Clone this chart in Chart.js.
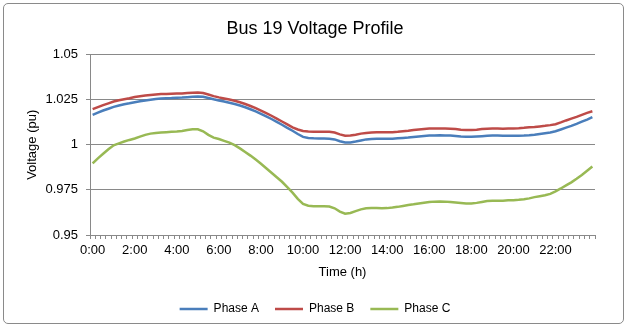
<!DOCTYPE html>
<html>
<head>
<meta charset="utf-8">
<script src="https://cdn.jsdelivr.net/npm/chart.js@4"></script>
<style>
  body { margin: 0; background: #fff; }
  #wrap { position: relative; width: 625px; height: 325px; }
  #frame { position: absolute; left: 3px; top: 3px; width: 619px; height: 319px;
           border: 1px solid #8a8a8a; border-radius: 5px; pointer-events: none; }
</style>
</head>
<body>
<div id="wrap">
  <canvas id="voltChart" width="625" height="325"></canvas>
  <div id="frame"></div>
</div>
<script>
// DATA (15 min steps, 0:00 .. 23:45)
const times = [];
for (let h = 0; h < 24; h++) for (let m = 0; m < 60; m += 15) times.push(h + ":" + (m < 10 ? "0" + m : m));

const phaseA = [
  1.0166, 1.0178, 1.0190, 1.0200, 1.0210, 1.0218, 1.0225, 1.0230,
  1.0236, 1.0241, 1.0246, 1.0250, 1.0254, 1.0256, 1.0258, 1.0259,
  1.0261, 1.0262, 1.0264, 1.0266, 1.0268, 1.0266, 1.0259, 1.0252,
  1.0246, 1.0240, 1.0233, 1.0226, 1.0218, 1.0208, 1.0197, 1.0185,
  1.0172, 1.0158, 1.0143, 1.0127, 1.0111, 1.0094, 1.0078, 1.0060,
  1.0044, 1.0038, 1.0036, 1.0035, 1.0035, 1.0034, 1.0030, 1.0020,
  1.0013, 1.0013, 1.0018, 1.0024, 1.0030, 1.0032, 1.0033, 1.0033,
  1.0033, 1.0034, 1.0036, 1.0038, 1.0040, 1.0043, 1.0046, 1.0049,
  1.0051, 1.0052, 1.0053, 1.0052, 1.0051, 1.0049, 1.0046, 1.0044,
  1.0044, 1.0046, 1.0048, 1.0050, 1.0051, 1.0051, 1.0050, 1.0050,
  1.0050, 1.0050, 1.0051, 1.0053, 1.0056, 1.0060, 1.0064, 1.0068,
  1.0075, 1.0085, 1.0095, 1.0105, 1.0116, 1.0128, 1.0140, 1.0153
];
const phaseB = [
  1.0198, 1.0209, 1.0220, 1.0230, 1.0240, 1.0247, 1.0253, 1.0258,
  1.0265, 1.0269, 1.0273, 1.0276, 1.0279, 1.0281, 1.0282, 1.0283,
  1.0284, 1.0285, 1.0287, 1.0289, 1.0290, 1.0287, 1.0279, 1.0270,
  1.0263, 1.0257, 1.0251, 1.0244, 1.0236, 1.0226, 1.0215, 1.0203,
  1.0190, 1.0176, 1.0161, 1.0145, 1.0129, 1.0113, 1.0097, 1.0085,
  1.0077, 1.0074, 1.0073, 1.0072, 1.0072, 1.0072, 1.0068, 1.0058,
  1.0050, 1.0051, 1.0056, 1.0062, 1.0066, 1.0068, 1.0069, 1.0069,
  1.0069, 1.0070, 1.0072, 1.0075, 1.0078, 1.0082, 1.0085, 1.0088,
  1.0090, 1.0091, 1.0091, 1.0090, 1.0089, 1.0087, 1.0084, 1.0082,
  1.0082, 1.0084, 1.0087, 1.0089, 1.0090, 1.0090, 1.0089, 1.0090,
  1.0091, 1.0092, 1.0094, 1.0097, 1.0099, 1.0102, 1.0105, 1.0109,
  1.0114, 1.0124, 1.0135, 1.0145, 1.0155, 1.0166, 1.0177, 1.0186
];
const phaseC = [
  0.9897, 0.9925, 0.9950, 0.9975, 0.9997, 1.0008, 1.0018, 1.0027,
  1.0035, 1.0045, 1.0055, 1.0062, 1.0066, 1.0068, 1.0070, 1.0072,
  1.0074, 1.0077, 1.0082, 1.0086, 1.0086, 1.0075, 1.0055, 1.0040,
  1.0032, 1.0022, 1.0012, 0.9998, 0.9980, 0.9960, 0.9940, 0.9918,
  0.9895, 0.9870, 0.9845, 0.9820, 0.9795, 0.9765, 0.9735, 0.9700,
  0.9672, 0.9662, 0.9660, 0.9660, 0.9660, 0.9658, 0.9648, 0.9630,
  0.9618, 0.9622, 0.9632, 0.9642, 0.9648, 0.9650, 0.9649, 0.9648,
  0.9649, 0.9652, 0.9656, 0.9661, 0.9666, 0.9670, 0.9675, 0.9679,
  0.9683, 0.9685, 0.9686, 0.9685, 0.9683, 0.9680, 0.9677, 0.9674,
  0.9674, 0.9678, 0.9683, 0.9688, 0.9690, 0.9690, 0.9690, 0.9692,
  0.9693, 0.9695, 0.9698, 0.9703, 0.9710, 0.9715, 0.9720, 0.9728,
  0.9742, 0.9758, 0.9775, 0.9792, 0.9812, 0.9833, 0.9856, 0.9880
];
const yTicks = [0.95, 0.975, 1, 1.025, 1.05];

const FONT = "'Liberation Sans', Arial, sans-serif";
const GRID = "#898989";

function line(label, data, color) {
  return { label, data, borderColor: color, backgroundColor: color, borderWidth: 2.5,
           pointRadius: 0, tension: 0, fill: false };
}

new Chart(document.getElementById("voltChart"), {
  type: "line",
  data: {
    labels: times,
    datasets: [
      line("Phase A", phaseA, "#4a7ebb"),
      line("Phase B", phaseB, "#be4b48"),
      line("Phase C", phaseC, "#98b954")
    ]
  },
  options: {
    responsive: false,
    animation: false,
    layout: { padding: { top: 0, right: 0, bottom: 0, left: 5 } },
    plugins: {
      title: { display: true, text: "Bus 19 Voltage Profile", color: "#000",
               font: { family: FONT, size: 18, weight: "normal" }, padding: { top: 18, bottom: 15 } },
      legend: { position: "bottom",
                labels: { usePointStyle: true, pointStyle: "line", pointStyleWidth: 28, boxHeight: 12,
                          padding: 16, color: "#000", font: { family: FONT, size: 12 } } },
      tooltip: { enabled: false }
    },
    scales: {
      x: {
        offset: true,
        grid: { display: true, offset: true, drawOnChartArea: false, tickLength: 4, color: GRID },
        border: { color: GRID },
        ticks: { autoSkip: false, maxRotation: 0, padding: 4, color: "#000",
                 font: { family: FONT, size: 13 },
                 callback: (v, i) => (i % 8 === 0 ? times[i] : "") },
        title: { display: true, text: "Time (h)", color: "#000",
                 font: { family: FONT, size: 13 }, padding: { top: 0, bottom: 7 } },
        afterFit: s => { s.height = 52; }
      },
      y: {
        min: 0.95, max: 1.05,
        afterBuildTicks: s => { s.ticks = yTicks.map(v => ({ value: v })); },
        grid: { color: GRID, tickLength: 4, lineWidth: 1 },
        border: { color: GRID },
        ticks: { padding: 8, color: "#000", font: { family: FONT, size: 13 },
                 callback: v => String(+v.toFixed(3)) },
        title: { display: true, text: "Voltage (pu)", color: "#000",
                 font: { family: FONT, size: 13 }, padding: { top: 20, bottom: 0 } },
        afterFit: s => { s.width = 85; }
      },
      // empty right axis only reserves the margin right of the plot
      yRight: {
        position: "right",
        min: 0.95, max: 1.05,
        grid: { drawOnChartArea: false, drawTicks: false },
        border: { display: false },
        ticks: { display: false },
        afterFit: s => { s.width = 30; }
      }
    }
  }
});
</script>
</body>
</html>
